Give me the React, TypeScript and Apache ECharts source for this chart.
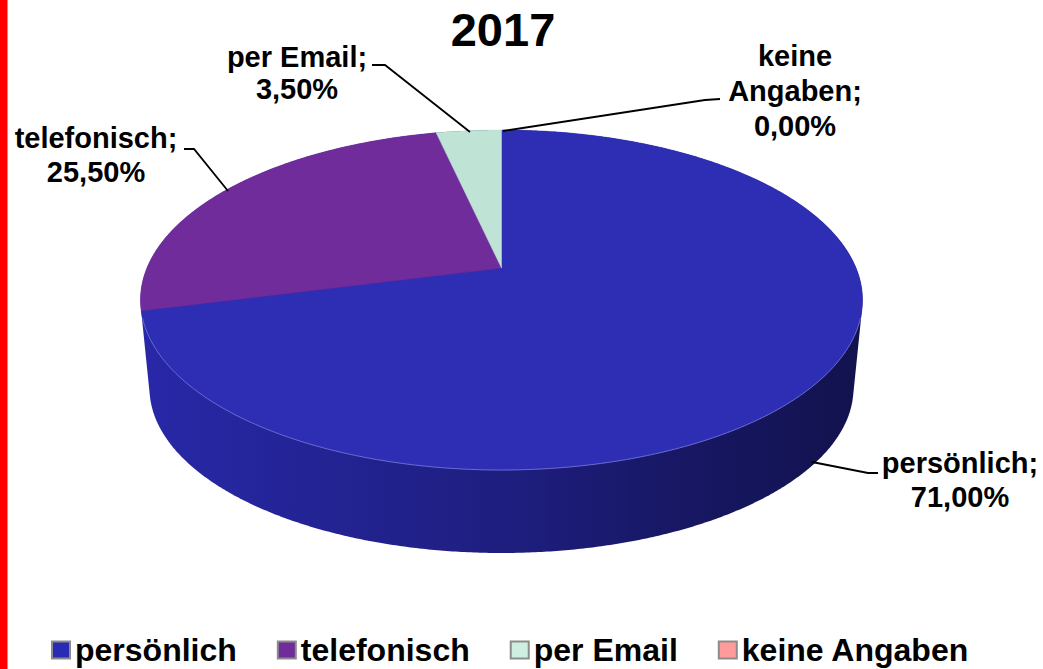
import React, { useEffect, useRef } from "react";
import * as echarts from "echarts";

const categories = ["persönlich", "telefonisch", "per Email", "keine Angaben"];
const shares = [71.0, 25.5, 3.5, 0.0];
const shareLabels = ["71,00%", "25,50%", "3,50%", "0,00%"];
const sliceColors = ["#2e2eb5", "#702c9b", "#bfe3d4", "#ff9b9b"];
const legendColors = ["#2a2ab4", "#702c9b", "#cdeee0", "#ff9b9b"];
const labelLines = [
  ["persönlich;", "71,00%"],
  ["telefonisch;", "25,50%"],
  ["per Email;", "3,50%"],
  ["keine", "Angaben;", "0,00%"],
];

// layout of the drawing (kept apart from the data)
const FONT = "Liberation Sans";
const TOP = { cx: 501.5, cy: 300, rx: 361, ry: 170 };
const BOTTOM = { cx: 501.5, cy: 388, rx: 352, ry: 165 };
const TILT = 0.188; // perspective: moves the pie's centre towards the rear
const labelPos = [
  { x: 960, y: 463, gap: 34 },
  { x: 96, y: 138, gap: 34 },
  { x: 297, y: 57, gap: 32 },
  { x: 795, y: 56, gap: 35 },
];
const leaders: number[][][] = [
  [[812, 462], [868, 473], [878, 473]],
  [[184, 149], [194, 149], [228, 191]],
  [[372, 65], [385, 65], [470, 132]],
  [[720, 99], [705, 100], [503, 131]],
];

function project(pct: number): number[] {
  const th = (pct / 100) * 2 * Math.PI;
  const u = Math.sin(th);
  const v = Math.cos(th);
  const d = 1 + TILT * v;
  const u2 = (u * Math.sqrt(1 - TILT * TILT)) / d;
  const v2 = (v + TILT) / d;
  return [TOP.cx + TOP.rx * u2, TOP.cy - TOP.ry * v2];
}

function arcPoints(from: number, to: number): number[][] {
  const n = Math.max(2, Math.ceil((to - from) * 6));
  const pts: number[][] = [];
  for (let i = 0; i <= n; i++) pts.push(project(from + ((to - from) * i) / n));
  return pts;
}

function hull(points: number[][]): number[][] {
  const p = points.slice().sort((a, b) => a[0] - b[0] || a[1] - b[1]);
  const cross = (o: number[], a: number[], b: number[]) =>
    (a[0] - o[0]) * (b[1] - o[1]) - (a[1] - o[1]) * (b[0] - o[0]);
  const build = (list: number[][]) => {
    const h: number[][] = [];
    for (const q of list) {
      while (h.length >= 2 && cross(h[h.length - 2], h[h.length - 1], q) <= 0) h.pop();
      h.push(q);
    }
    h.pop();
    return h;
  };
  return build(p).concat(build(p.slice().reverse()));
}

function ellipsePoints(e: { cx: number; cy: number; rx: number; ry: number }): number[][] {
  const pts: number[][] = [];
  for (let i = 0; i < 720; i++) {
    const t = (i / 720) * 2 * Math.PI;
    pts.push([e.cx + e.rx * Math.cos(t), e.cy + e.ry * Math.sin(t)]);
  }
  return pts;
}

const wallPoints = hull(ellipsePoints(TOP).concat(ellipsePoints(BOTTOM)));

function buildSeries() {
  let cumulative = 0;
  return categories.map((name, idx) => {
    const start = cumulative;
    const value = shares[idx];
    cumulative += value;
    return {
      type: "custom",
      name,
      coordinateSystem: "none",
      silent: true,
      itemStyle: { color: legendColors[idx] },
      data: [[value, shareLabels[idx]]],
      renderItem: () => {
        const children: any[] = [];
        if (idx === 0) {
          children.push({
            type: "polygon",
            shape: { points: wallPoints },
            style: {
              fill: new echarts.graphic.LinearGradient(0, 0, 1, 0, [
                { offset: 0, color: "#2828a8" },
                { offset: 0.25, color: "#232394" },
                { offset: 0.5, color: "#1e1e80" },
                { offset: 0.75, color: "#171764" },
                { offset: 1, color: "#12124e" },
              ]),
            },
          });
        }
        if (value > 0) {
          const arc = arcPoints(start, start + value);
          children.push({
            type: "polygon",
            shape: { points: [[TOP.cx, TOP.cy - TOP.ry * TILT], ...arc] },
            style: { fill: sliceColors[idx], stroke: sliceColors[idx], lineWidth: 0.5 },
          });
          if (idx === 0) {
            const rim = arc.filter((p) => p[1] > TOP.cy + 18);
            children.push({
              type: "polyline",
              shape: { points: rim },
              style: { fill: "none", stroke: "#6b6bcf", lineWidth: 1 },
            });
          }
        }
        children.push({
          type: "polyline",
          shape: { points: leaders[idx] },
          style: { fill: "none", stroke: "#000000", lineWidth: 1.8 },
        });
        labelLines[idx].forEach((text, i) => {
          children.push({
            type: "text",
            style: {
              text,
              x: labelPos[idx].x,
              y: labelPos[idx].y + i * labelPos[idx].gap,
              align: "center",
              verticalAlign: "middle",
              fontFamily: FONT,
              fontWeight: "bold",
              fontSize: 29,
              fill: "#000000",
            },
          });
        });
        return { type: "group", children };
      },
    };
  });
}

export default function App() {
  const ref = useRef<HTMLDivElement>(null);
  useEffect(() => {
    document.body.style.margin = "0";
    const chart = echarts.init(ref.current!, null, { renderer: "svg" });
    chart.setOption({
      animation: false,
      backgroundColor: "#ffffff",
      title: {
        text: "2017",
        left: 498,
        top: 1,
        textAlign: "center",
        textStyle: { fontFamily: FONT, fontWeight: "bold", fontSize: 47, color: "#000000" },
      },
      legend: {
        left: 51,
        top: 634,
        data: categories,
        icon: "rect",
        itemWidth: 18,
        itemHeight: 17,
        itemGap: 40,
        selectedMode: false,
        padding: 0,
        itemStyle: { borderColor: "#8c8c8c", borderWidth: 2 },
        textStyle: { fontFamily: FONT, fontWeight: "bold", fontSize: 32, color: "#000000" },
      },
      graphic: [
        {
          type: "rect",
          left: 0,
          top: 0,
          shape: { width: 7.5, height: 669 },
          style: { fill: "#ff0000" },
        },
      ],
      series: buildSeries(),
    });
    return () => chart.dispose();
  }, []);
  return <div ref={ref} style={{ position: "absolute", left: 0, top: 0, width: 1043, height: 669 }} />;
}
